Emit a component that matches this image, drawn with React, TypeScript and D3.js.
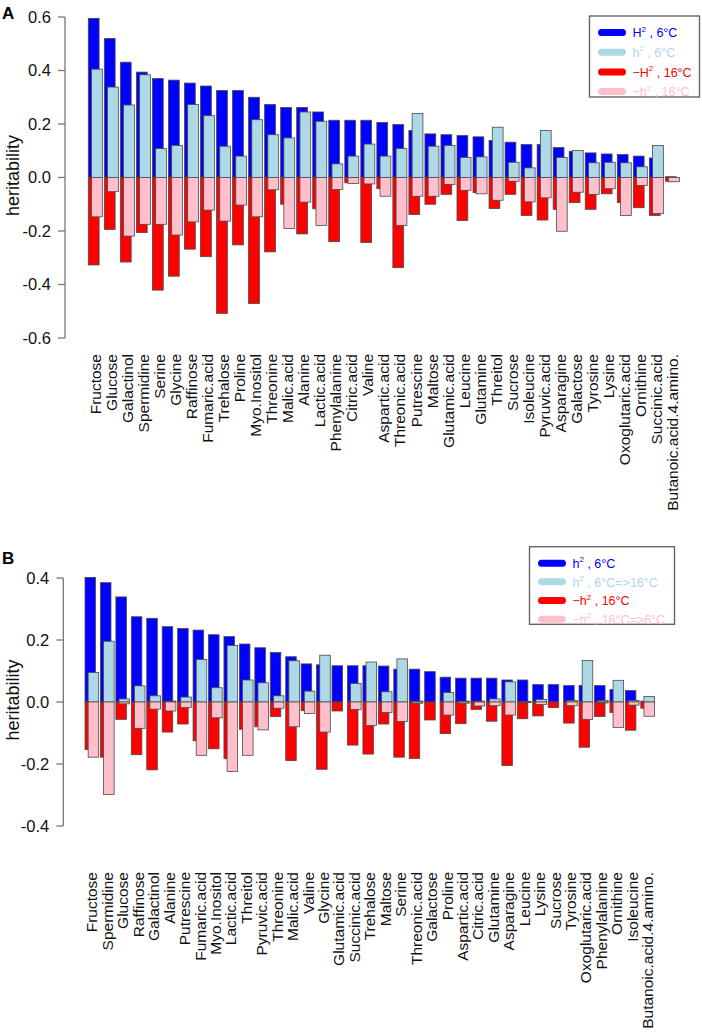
import React from "react";
import * as d3 from "d3";

// ---------- Panel A data ----------
const catsA = [
  "Fructose", "Glucose", "Galactinol", "Spermidine", "Serine", "Glycine", "Raffinose",
  "Fumaric.acid", "Trehalose", "Proline", "Myo.Inositol", "Threonine", "Malic.acid",
  "Alanine", "Lactic.acid", "Phenylalanine", "Citric.acid", "Valine", "Aspartic.acid",
  "Threonic.acid", "Putrescine", "Maltose", "Glutamic.acid", "Leucine", "Glutamine",
  "Threitol", "Sucrose", "Isoleucine", "Pyruvic.acid", "Asparagine", "Galactose",
  "Tyrosine", "Lysine", "Oxoglutaric.acid", "Ornithine", "Succinic.acid",
  "Butanoic.acid.4.amino.",
];
const H2_6C_A = [
  0.595, 0.52, 0.431, 0.394, 0.37, 0.364, 0.353, 0.342, 0.325, 0.325, 0.3, 0.273, 0.262,
  0.262, 0.245, 0.214, 0.214, 0.214, 0.206, 0.198, 0.176, 0.163, 0.16, 0.157, 0.152,
  0.138, 0.132, 0.123, 0.123, 0.112, 0.098, 0.092, 0.088, 0.086, 0.08, 0.073, 0.003,
];
const h2_6C_A = [
  0.405, 0.338, 0.271, 0.384, 0.108, 0.12, 0.273, 0.231, 0.117, 0.08, 0.216, 0.16, 0.148,
  0.245, 0.21, 0.051, 0.08, 0.125, 0.08, 0.108, 0.239, 0.117, 0.12, 0.075, 0.077,
  0.188, 0.057, 0.036, 0.176, 0.075, 0.101, 0.055, 0.057, 0.055, 0.04, 0.12, 0.0,
];
const H2_16C_A = [
  0.327, 0.194, 0.316, 0.206, 0.421, 0.369, 0.268, 0.296, 0.508, 0.252, 0.471, 0.278, 0.1,
  0.211, 0.117, 0.24, 0.02, 0.243, 0.042, 0.337, 0.138, 0.1, 0.063, 0.161, 0.057,
  0.116, 0.063, 0.142, 0.159, 0.119, 0.094, 0.119, 0.061, 0.094, 0.113, 0.142, 0.014,
];
const h2_16C_A = [
  0.147, 0.053, 0.219, 0.175, 0.175, 0.215, 0.166, 0.122, 0.163, 0.103, 0.147, 0.046, 0.191,
  0.092, 0.179, 0.045, 0.022, 0.024, 0.07, 0.179, 0.07, 0.07, 0.026, 0.048, 0.061,
  0.085, 0.014, 0.091, 0.076, 0.201, 0.055, 0.063, 0.042, 0.142, 0.03, 0.135, 0.016,
];
const ticksA = [0.6, 0.4, 0.2, 0.0, -0.2, -0.4, -0.6];

// ---------- Panel B data ----------
const catsB = [
  "Fructose", "Spermidine", "Glucose", "Raffinose", "Galactinol", "Alanine", "Putrescine",
  "Fumaric.acid", "Myo.Inositol", "Lactic.acid", "Threitol", "Pyruvic.acid", "Threonine",
  "Malic.acid", "Valine", "Glycine", "Glutamic.acid", "Succinic.acid", "Trehalose",
  "Maltose", "Serine", "Threonic.acid", "Galactose", "Proline", "Aspartic.acid",
  "Citric.acid", "Glutamine", "Asparagine", "Leucine", "Lysine", "Sucrose", "Tyrosine",
  "Oxoglutaric.acid", "Phenylalanine", "Ornithine", "Isoleucine", "Butanoic.acid.4.amino.",
];
const h2_6C_B = [
  0.402, 0.385, 0.339, 0.275, 0.27, 0.243, 0.237, 0.232, 0.217, 0.211, 0.187, 0.175, 0.16,
  0.146, 0.123, 0.12, 0.117, 0.117, 0.117, 0.116, 0.106, 0.106, 0.098, 0.08, 0.077,
  0.077, 0.077, 0.071, 0.071, 0.056, 0.056, 0.053, 0.053, 0.053, 0.04, 0.037, 0.003,
];
const h2_6to16_B = [
  0.095, 0.196, 0.01, 0.052, 0.02, 0.003, 0.016, 0.137, 0.046, 0.182, 0.071, 0.062, 0.02,
  0.133, 0.035, 0.151, 0.0, 0.06, 0.129, 0.033, 0.139, 0.003, 0.0, 0.031, 0.003,
  0.003, 0.01, 0.065, 0.002, 0.008, 0.0, 0.005, 0.134, 0.005, 0.07, 0.005, 0.018,
];
const h2_16C_B = [
  0.153, 0.178, 0.056, 0.17, 0.219, 0.097, 0.071, 0.125, 0.151, 0.183, 0.088, 0.08, 0.047,
  0.189, 0.028, 0.217, 0.029, 0.139, 0.168, 0.071, 0.178, 0.182, 0.058, 0.102, 0.07,
  0.024, 0.062, 0.205, 0.054, 0.045, 0.018, 0.068, 0.146, 0.047, 0.034, 0.091, 0.02,
];
const h2_16to6_B = [
  0.178, 0.298, 0.006, 0.085, 0.023, 0.029, 0.018, 0.172, 0.051, 0.224, 0.172, 0.09, 0.02,
  0.08, 0.037, 0.097, 0.0, 0.024, 0.076, 0.034, 0.063, 0.004, 0.0, 0.042, 0.004,
  0.013, 0.012, 0.042, 0.002, 0.008, 0.0, 0.012, 0.056, 0.003, 0.082, 0.01, 0.046,
];
const ticksB = [0.4, 0.2, 0.0, -0.2, -0.4];

const BLUE = "#0000FF";
const LBLUE = "#ADD8E6";
const RED = "#FF0000";
const PINK = "#FFC0CB";
const FONT = "'Liberation Sans', Arial, Helvetica, sans-serif";

type LegendItem = { color: string; pre: string; base: string; post: string };

const legendA: LegendItem[] = [
  { color: BLUE, pre: "", base: "H", post: " , 6°C" },
  { color: LBLUE, pre: "", base: "h", post: " , 6°C" },
  { color: RED, pre: "−", base: "H", post: " , 16°C" },
  { color: PINK, pre: "−", base: "h", post: " , 16°C" },
];
const legendB: LegendItem[] = [
  { color: BLUE, pre: "", base: "h", post: " , 6°C" },
  { color: LBLUE, pre: "", base: "h", post: " , 6°C=>16°C" },
  { color: RED, pre: "−", base: "h", post: " , 16°C" },
  { color: PINK, pre: "−", base: "h", post: " , 16°C=>6°C" },
];

type PanelProps = {
  letter: string;
  letterY: number;
  cats: string[];
  s1: number[];
  s2: number[];
  s3: number[];
  s4: number[];
  ticks: number[];
  yTop: number;
  yBot: number;
  xStart: number;
  xEnd: number;
  padInner: number;
  axisX: number;
  labelTop: number;
  legend: LegendItem[];
  legX: number;
  legY: number;
  legW: number;
  legH: number;
};

function Panel(p: PanelProps) {
  const ext = d3.extent(p.ticks) as [number, number];
  const y = d3.scaleLinear().domain(ext).range([p.yBot, p.yTop]);
  const x = d3.scaleBand<string>().domain(p.cats).range([p.xStart, p.xEnd]).paddingInner(p.padInner).paddingOuter(0);
  const bw = x.bandwidth();
  const w = bw * 0.77;
  const off = bw - w;
  const y0 = y(0);
  const stroke = "#4a4a4a";
  const sw = 0.8;
  const rect = (key: string, xx: number, v: number, fill: string) => {
    const yy = y(v);
    return (
      <rect key={key} x={xx} y={Math.min(yy, y0)} width={w} height={Math.abs(yy - y0)} fill={fill} stroke={stroke} strokeWidth={sw} />
    );
  };
  const legStep = (p.legH - 16) / 3.3;
  return (
    <g>
      <text x={2} y={p.letterY} fontFamily={FONT} fontWeight="bold" fontSize={17}>{p.letter}</text>
      {/* bars */}
      {p.cats.map((c, i) => rect("d" + i, x(c)!, p.s1[i], BLUE))}
      {p.cats.map((c, i) => rect("r" + i, x(c)!, -p.s3[i], RED))}
      {p.cats.map((c, i) => rect("l" + i, x(c)! + off, p.s2[i], LBLUE))}
      {p.cats.map((c, i) => rect("p" + i, x(c)! + off, -p.s4[i], PINK))}
      {/* y axis */}
      <line x1={p.axisX} x2={p.axisX} y1={y(ext[1])} y2={y(ext[0])} stroke="#777" strokeWidth={1.3} />
      {p.ticks.map((t) => (
        <g key={t}>
          <line x1={p.axisX - 7} x2={p.axisX} y1={y(t)} y2={y(t)} stroke="#777" strokeWidth={1.3} />
          <text x={p.axisX - 14} y={y(t)} dy="0.36em" textAnchor="end" fontFamily={FONT} fontSize={16.5} fill="#111">
            {t.toFixed(1)}
          </text>
        </g>
      ))}
      <text
        transform={`translate(14,${(y(ext[0]) + y(ext[1])) / 2 - 2}) rotate(-90)`}
        textAnchor="middle"
        dy="0.3em"
        fontFamily={FONT}
        fontSize={18}
        fill="#111"
      >
        heritability
      </text>
      {/* category labels */}
      {p.cats.map((c) => (
        <text
          key={"t" + c}
          transform={`translate(${x(c)! + bw / 2},${p.labelTop}) rotate(-90)`}
          textAnchor="end"
          dy="0.36em"
          fontFamily={FONT}
          fontSize={15.5}
          fill="#111"
        >
          {c}
        </text>
      ))}
      {/* legend */}
      <rect x={p.legX} y={p.legY} width={p.legW} height={p.legH} fill="white" stroke="#666" strokeWidth={1.4} />
      {p.legend.map((it, i) => {
        const ly = p.legY + 16.5 + i * legStep;
        return (
          <g key={"lg" + i}>
            <line x1={p.legX + 12} x2={p.legX + 33} y1={ly} y2={ly} stroke={it.color} strokeWidth={7} strokeLinecap="round" />
            <text x={p.legX + 43} y={ly} dy="0.38em" fontFamily={FONT} fontSize={12.5} fill={it.color}>
              <tspan>{it.pre}{it.base}</tspan>
              <tspan dy={-5.5} fontSize={8}>2</tspan>
              <tspan dy={5.5}>{it.post}</tspan>
            </text>
          </g>
        );
      })}
    </g>
  );
}

export default function App() {
  return (
    <svg
      width={702}
      height={1034}
      viewBox="0 0 702 1034"
      style={{ position: "absolute", left: 0, top: 0, background: "white" }}
    >
      <rect width={702} height={1034} fill="white" />
      <Panel
        letter="A"
        letterY={18.5}
        cats={catsA}
        s1={H2_6C_A}
        s2={h2_6C_A}
        s3={H2_16C_A}
        s4={h2_16C_A}
        ticks={ticksA}
        yTop={17}
        yBot={338}
        xStart={88.3}
        xEnd={679.4}
        padInner={0.125}
        axisX={65}
        labelTop={354}
        legend={legendA}
        legX={589.5}
        legY={16}
        legW={110}
        legH={81}
      />
      <Panel
        letter="B"
        letterY={563.5}
        cats={catsB}
        s1={h2_6C_B}
        s2={h2_6to16_B}
        s3={h2_16C_B}
        s4={h2_16to6_B}
        ticks={ticksB}
        yTop={578}
        yBot={826}
        xStart={85}
        xEnd={654.5}
        padInner={0.113}
        axisX={63.3}
        labelTop={872}
        legend={legendB}
        legX={529.5}
        legY={546.7}
        legW={145}
        legH={77.6}
      />
    </svg>
  );
}
